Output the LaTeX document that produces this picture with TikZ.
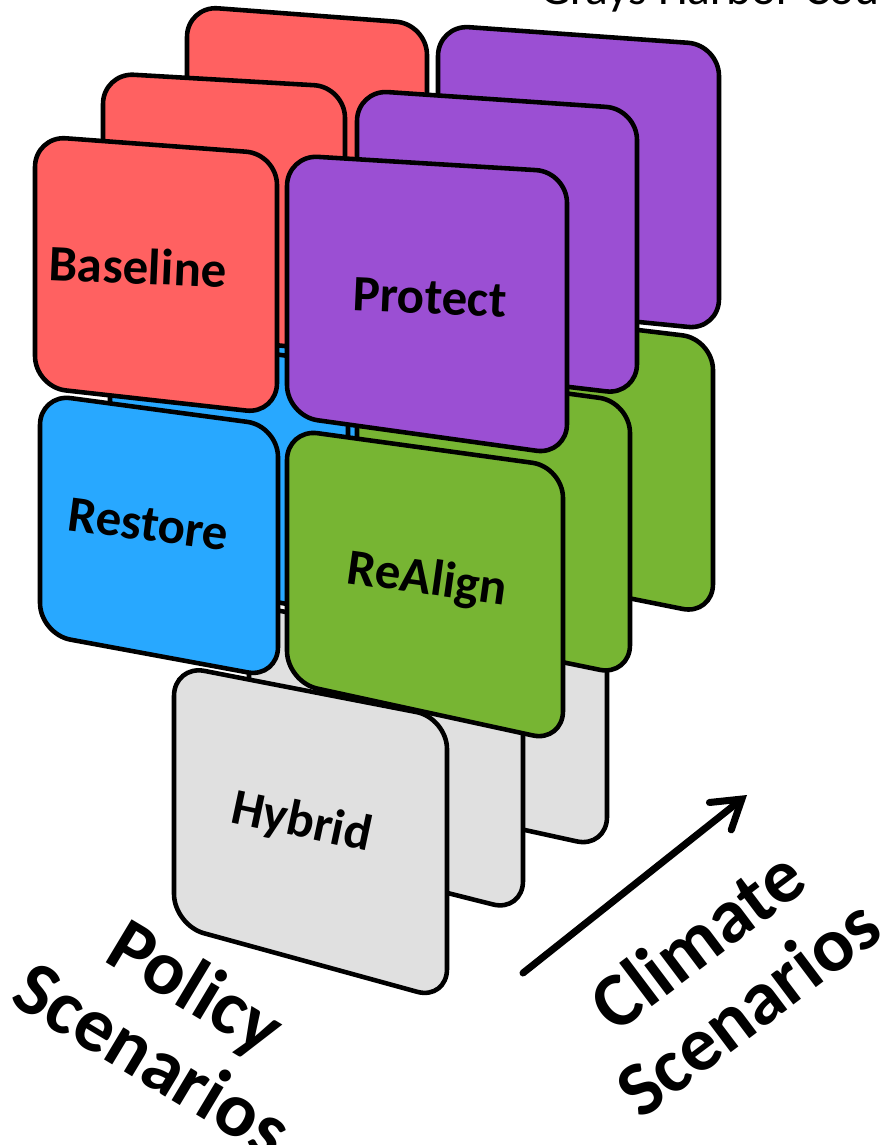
\documentclass[tikz,border=0pt]{standalone}
\usepackage{fontspec}
\newfontfamily\calf{Carlito}
\usetikzlibrary{arrows.meta,calc}
\definecolor{cred}{HTML}{FF6161}
\definecolor{cpurple}{HTML}{9B4FD3}
\definecolor{cblue}{HTML}{28A8FF}
\definecolor{cgreen}{HTML}{77B533}
\definecolor{cgray}{HTML}{E0E0E0}
\tikzset{
  cardline/.style={draw=black, line width=2.6pt, rounded corners=0.62cm, line join=round},
  cardtxt/.style={font=\calf\bfseries\fontsize{29}{34}\selectfont, anchor=base west, inner sep=0pt},
  axistxt/.style={font=\calf\bfseries\fontsize{44}{48}\selectfont, align=center, inner sep=0pt},
}
\newcommand{\mycard}[5]{\path[cardline, fill=#5] ($(#1)!0.5!(#4)$) -- (#1) -- (#2) -- (#3) -- (#4) -- cycle;}
\begin{document}
\begin{tikzpicture}[x={(0.02cm,0cm)}, y={(0cm,-0.02cm)}]
\path[use as bounding box] (0,0) rectangle (884,1145);
\clip (0,0) rectangle (884,1145);
% back layer
\mycard{187,6}{427,24}{427,290}{187,266}{cred}
\mycard{438,25}{719,45}{719,330}{438,302}{cpurple}
\mycard{192,270}{430,302}{430,560}{192,515}{cblue}
\mycard{438,306}{713,339}{713,615}{438,560}{cgreen}
\mycard{333,545}{607,598}{607,848}{333,788}{cgray}
% middle layer
\mycard{103,73}{345,87}{345,352}{103,328}{cred}
\mycard{357,90}{637,109}{637,395}{357,362}{cpurple}
\mycard{110,332}{348,364}{348,615}{110,572}{cblue}
\mycard{357,365}{630,402}{630,676}{357,620}{cgreen}
\mycard{249,605}{523,657}{523,912}{249,843}{cgray}
% front layer
\mycard{35,136}{277,154}{277,414}{35,387}{cred}
\mycard{287,155}{567,172}{567,455}{287,416}{cpurple}
\mycard{40,394}{278,426}{278,678}{40,634}{cblue}
\mycard{287,429}{563,467}{563,742}{287,682}{cgreen}
\mycard{174,665}{447,718}{447,1000}{174,925}{cgray}
% card labels
\node[cardtxt, rotate=-2.5] (baseline) at (48,280) {Baseline};
\node[cardtxt, rotate=-2.6] (protect) at (352,310) {Protect};
\node[cardtxt, rotate=-7.5] (restore) at (66,530) {Restore};
\node[cardtxt, rotate=-8] (realign) at (345,583) {ReAlign};
\node[cardtxt, rotate=-12] (hybrid) at (229,822) {Hybrid};
% title (cut off)
\node[anchor=base west, inner sep=0pt, font=\calf\fontsize{27}{32}\selectfont] (title) at (540,5) {Grays Harbor Cou};
% axes
\coordinate (arrS) at (523,973);
\coordinate (arrE) at (747,795);
\draw[line width=4pt, line cap=round, -{Straight Barb[length=5.5mm,width=7mm,line cap=round]}] (arrS) -- (arrE);
\node[axistxt, rotate=-31] (policy) at (175,1022) {Policy\\Scenarios};
\node[axistxt, rotate=37] (climate) at (722,973) {Climate\\Scenarios};
\end{tikzpicture}
\end{document}
